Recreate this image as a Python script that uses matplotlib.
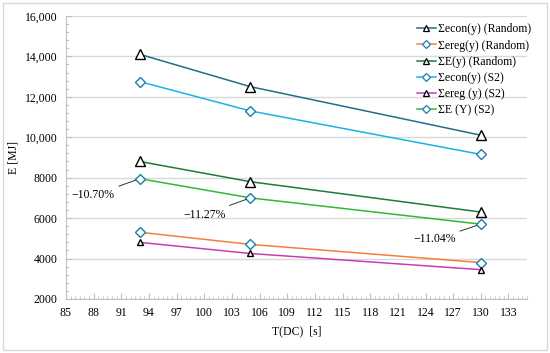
import matplotlib
matplotlib.use('Agg')
import matplotlib.pyplot as plt
from matplotlib.lines import Line2D
from matplotlib.patches import Rectangle
from matplotlib.ticker import FixedLocator, MultipleLocator, FuncFormatter

plt.rcParams['font.family'] = ['Liberation Serif', 'DejaVu Serif']

# cycle time T(DC) [s]
t_dc = [93, 105, 130]

# energies [MJ]
econ_random = [14100, 12500, 10100]
ereg_random = [5300, 4700, 3800]
e_random = [8800, 7800, 6300]
econ_s2 = [12750, 11300, 9150]
ereg_s2 = [4800, 4250, 3450]
e_s2 = [7950, 7000, 5700]

labels = ['Σecon(y) (Random)', 'Σereg(y) (Random)', 'ΣE(y) (Random)',
          'Σecon(y) (S2)', 'Σereg (y) (S2)', 'ΣE (Y) (S2)']
pct_labels = ['\u221210.70%', '\u221211.27%', '\u221211.04%']
x_ticks = list(range(85, 134, 3))

series = [econ_random, ereg_random, e_random, econ_s2, ereg_s2, e_s2]
colors = ['#1f6f8b', '#f47f3c', '#1e7b3c', '#1ab2e8', '#c63fb4', '#33b835']
markers = ['^', 'D', '^', 'D', '^', 'D']
msizes = [7, 5, 7, 5, 5, 5]

fig = plt.figure(figsize=(5.5, 3.53), dpi=100)
ax = fig.add_axes([0.12, 0.153, 0.838, 0.802])

for ys, c, m, ms in zip(series, colors, markers, msizes):
    edge = 'black' if m == '^' else '#1a7fa8'
    ax.plot(t_dc, ys, color=c, lw=1.1, marker=m, ms=ms,
            mfc='white', mec=edge, mew=1.0, zorder=3)

# percentage annotations on the S2 total energy line
offsets = [(-18, -12), (-18, -12), (-18, -11)]
for x, y, txt, off in zip(t_dc, e_s2, pct_labels, offsets):
    ax.annotate(txt, xy=(x, y), xytext=off, textcoords='offset points',
                ha='right', va='center', fontsize=8.5,
                arrowprops=dict(arrowstyle='-', color='#333333', lw=0.7,
                                shrinkA=1, shrinkB=3))

ax.set_xlim(85, 135)
ax.set_ylim(2000, 16000)
ax.xaxis.set_major_locator(FixedLocator(x_ticks))
ax.xaxis.set_minor_locator(MultipleLocator(0.5))
ax.yaxis.set_major_locator(MultipleLocator(2000))
ax.yaxis.set_minor_locator(MultipleLocator(400))
ax.yaxis.set_major_formatter(FuncFormatter(
    lambda v, p: f'{v:,.0f}' if v >= 10000 else f'{v:.0f}'))

ax.tick_params(which='major', length=4, direction='in', color='#bfbfbf',
               labelsize=8.5, pad=6)
ax.tick_params(which='minor', length=2.5, direction='in', color='#bfbfbf')
ax.grid(axis='y', which='major', color='#d9d9d9', lw=1)
for s in ['top', 'right']:
    ax.spines[s].set_visible(False)
for s in ['left', 'bottom']:
    ax.spines[s].set_color('#bfbfbf')

ax.set_xlabel('T(DC)  [s]', fontsize=8.5, labelpad=4)
ax.set_ylabel('E [MJ]', fontsize=8.5, labelpad=4)

handles = []
for c, m in zip(colors, markers):
    edge = 'black' if m == '^' else '#1a7fa8'
    handles.append(Line2D([], [], color=c, lw=1.1, marker=m, ms=4,
                          mfc='white', mec=edge, mew=0.9))
ax.legend(handles, labels, loc='upper right', bbox_to_anchor=(1.02, 0.99),
          frameon=False, fontsize=8.5, handlelength=1.6, handletextpad=0.2,
          labelspacing=0.35, borderaxespad=0)

fig.patches.append(Rectangle((0.006, 0.009), 0.988, 0.983, transform=fig.transFigure,
                             fill=False, ec='#d9d9d9', lw=1))

fig.savefig('out.png', dpi=100)
